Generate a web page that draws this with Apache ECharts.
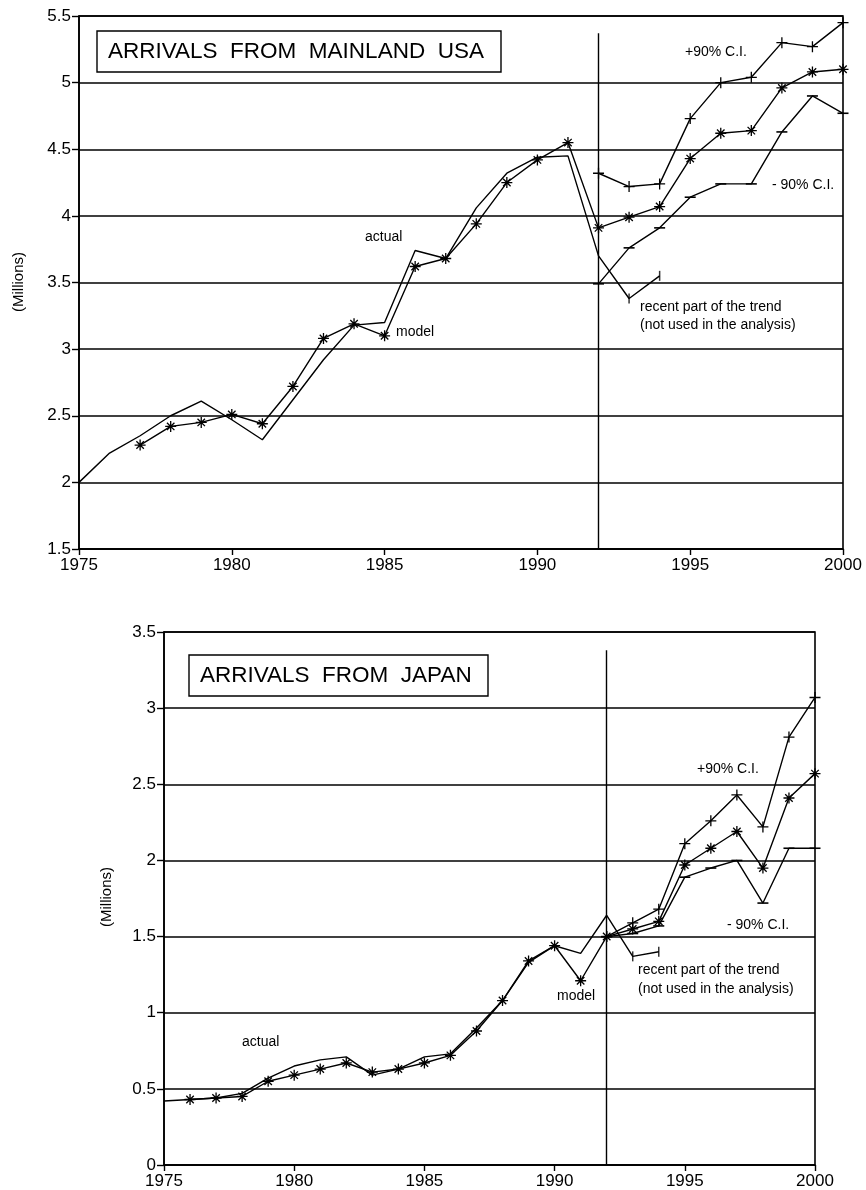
<!DOCTYPE html>
<html>
<head>
<meta charset="utf-8">
<title>Visitor arrivals: actual, model and 90% confidence interval</title>
<script src="https://cdn.jsdelivr.net/npm/echarts@6/dist/echarts.min.js"></script>
<style>
  html, body { margin: 0; padding: 0; background: #fff; }
  #chart { width: 866px; height: 1190px; }
</style>
</head>
<body>
<div id="chart"></div>
<script>
// ---- data (millions of arrivals) ----
const years = [1975, 1976, 1977, 1978, 1979, 1980, 1981, 1982, 1983, 1984, 1985, 1986, 1987,
               1988, 1989, 1990, 1991, 1992, 1993, 1994, 1995, 1996, 1997, 1998, 1999, 2000];
const forecastYears = [1992, 1993, 1994, 1995, 1996, 1997, 1998, 1999, 2000];
const recentYears = [1993, 1994];
const splitYear = 1992;

// Mainland USA
const usaActual = [2.00, 2.22, 2.35, 2.50, 2.61, 2.47, 2.32, 2.62, 2.92, 3.18, 3.20, 3.74, 3.68,
                   4.06, 4.32, 4.44, 4.45, 3.70, 3.38, 3.55];
const usaModel  = [null, null, 2.28, 2.42, 2.45, 2.51, 2.44, 2.72, 3.08, 3.19, 3.10, 3.62, 3.68,
                   3.94, 4.25, 4.42, 4.55, 3.91, 3.99, 4.07, 4.43, 4.62, 4.64, 4.96, 5.08, 5.10];
const usaUpper  = [4.32, 4.22, 4.24, 4.73, 5.00, 5.04, 5.30, 5.27, 5.45];
const usaLower  = [3.49, 3.76, 3.91, 4.14, 4.24, 4.24, 4.63, 4.90, 4.77];

// Japan
const japanActual = [0.42, 0.43, 0.44, 0.47, 0.57, 0.65, 0.69, 0.71, 0.59, 0.63, 0.71, 0.73, 0.90,
                     1.08, 1.33, 1.44, 1.39, 1.64, 1.37, 1.40];
const japanModel  = [null, 0.43, 0.44, 0.45, 0.55, 0.59, 0.63, 0.67, 0.61, 0.63, 0.67, 0.72, 0.88,
                     1.08, 1.34, 1.44, 1.21, 1.50, 1.55, 1.60, 1.97, 2.08, 2.19, 1.95, 2.41, 2.57];
const japanUpper  = [1.50, 1.59, 1.68, 2.11, 2.26, 2.43, 2.22, 2.81, 3.07];
const japanLower  = [1.50, 1.52, 1.57, 1.89, 1.95, 2.00, 1.72, 2.08, 2.08];

// axis ranges and tick labels
const yearTicks = [1975, 1980, 1985, 1990, 1995, 2000];
const usaRange = [1.5, 5.5];
const japanRange = [0, 3.5];
const usaSplitTop = 5.37;
const japanSplitTop = 3.38;

// ---- drawing ----
const FONT = '"Liberation Sans", Arial, Helvetica, sans-serif';
const STAR = 'path://M5,0L5,10M0,5L10,5M1.6,1.6L8.4,8.4M8.4,1.6L1.6,8.4';
const PLUS = 'path://M5,0L5,10M0,5L10,5';

function pairs(xs, ys) {
  const out = [];
  for (let i = 0; i < ys.length; i++) {
    if (ys[i] !== null && ys[i] !== undefined) out.push([xs[i], ys[i]]);
  }
  return out;
}
function pick(xs, ys, wanted) {
  return wanted.map(y => [y, ys[xs.indexOf(y)]]);
}

const lineBase = {
  type: 'line',
  animation: false,
  silent: true,
  lineStyle: { color: '#000', width: 1.4 },
  itemStyle: { color: '#000', borderColor: '#000', borderWidth: 1.3 }
};

function panelSeries(idx, actual, model, upper, lower, splitRange) {
  return [
    Object.assign({}, lineBase, {
      name: 'actual', xAxisIndex: idx, yAxisIndex: idx,
      symbol: 'none', data: pairs(years, actual),
      markLine: {
        silent: true, symbol: 'none', label: { show: false },
        lineStyle: { color: '#000', width: 1.4, type: 'solid' },
        data: [[{ coord: [splitYear, splitRange[0]] }, { coord: [splitYear, splitRange[1]] }]]
      }
    }),
    Object.assign({}, lineBase, {
      name: 'recent', type: 'scatter', xAxisIndex: idx, yAxisIndex: idx,
      symbol: 'rect', symbolSize: [1.5, 10], itemStyle: { color: '#000' },
      data: pick(years, actual, recentYears)
    }),
    Object.assign({}, lineBase, {
      name: 'model', xAxisIndex: idx, yAxisIndex: idx,
      symbol: STAR, symbolSize: 11, showAllSymbol: true, data: pairs(years, model)
    }),
    Object.assign({}, lineBase, {
      name: '+90% C.I.', xAxisIndex: idx, yAxisIndex: idx,
      symbol: PLUS, symbolSize: 11, showAllSymbol: true, data: pairs(forecastYears, upper)
    }),
    Object.assign({}, lineBase, {
      name: '-90% C.I.', xAxisIndex: idx, yAxisIndex: idx,
      symbol: 'rect', symbolSize: [11, 1.6], showAllSymbol: true,
      itemStyle: { color: '#000' }, data: pairs(forecastYears, lower)
    })
  ];
}

function xAxis(idx) {
  return {
    type: 'value', gridIndex: idx, min: 1975, max: 2000, interval: 5,
    axisLine: { show: true, onZero: false, lineStyle: { color: '#000', width: 1.6 } },
    axisTick: { show: true, length: 6, lineStyle: { color: '#000', width: 1.4 } },
    axisLabel: { color: '#000', fontSize: 17, fontFamily: FONT, margin: 8,
                 formatter: v => (yearTicks.indexOf(v) >= 0 ? String(v) : '') },
    splitLine: { show: false }
  };
}
function yAxis(idx, range) {
  return {
    type: 'value', gridIndex: idx, min: range[0], max: range[1], interval: 0.5,
    axisLine: { show: true, onZero: false, lineStyle: { color: '#000', width: 1.6 } },
    axisTick: { show: true, length: 7, lineStyle: { color: '#000', width: 1.4 } },
    axisLabel: { color: '#000', fontSize: 17, fontFamily: FONT, margin: 8,
                 formatter: v => String(Math.round(v * 10) / 10) },
    splitLine: { show: true, lineStyle: { color: '#000', width: 1.6 } }
  };
}

function text(x, y, s, size, extra) {
  return Object.assign({
    type: 'text', x: x, y: y, silent: true, z: 10,
    style: { text: s, fill: '#000', font: size + 'px ' + FONT, verticalAlign: 'middle' }
  }, extra || {});
}
function vtext(x, y, s, size) {
  return {
    type: 'text', x: x, y: y, rotation: Math.PI / 2, silent: true, z: 10,
    style: { text: s, fill: '#000', font: size + 'px ' + FONT, align: 'center', verticalAlign: 'middle' }
  };
}
function titleBox(x, y, w, h, s) {
  return {
    type: 'group', silent: true, z: 10,
    children: [
      { type: 'rect', shape: { x: x, y: y, width: w, height: h },
        style: { fill: '#fff', stroke: '#000', lineWidth: 1.4 } },
      { type: 'text', x: x + 11, y: y + h / 2,
        style: { text: s, fill: '#000', font: '22.5px ' + FONT, verticalAlign: 'middle' } }
    ]
  };
}

const option = {
  backgroundColor: '#fff',
  animation: false,
  grid: [
    { left: 79, right: 23, top: 16, height: 533, show: true, borderColor: '#000', borderWidth: 1.6 },
    { left: 164, right: 51, top: 632, height: 534, show: true, borderColor: '#000', borderWidth: 1.6 }
  ],
  xAxis: [xAxis(0), xAxis(1)],
  yAxis: [yAxis(0, usaRange), yAxis(1, japanRange)],
  series: [].concat(
    panelSeries(0, usaActual, usaModel, usaUpper, usaLower, [usaRange[0], usaSplitTop]),
    panelSeries(1, japanActual, japanModel, japanUpper, japanLower, [japanRange[0], japanSplitTop])
  ),
  graphic: [
    titleBox(97, 31, 404, 41, 'ARRIVALS  FROM  MAINLAND  USA'),
    vtext(19, 282, '(Millions)', 15),
    text(365, 237, 'actual', 14),
    text(396, 332, 'model', 14),
    text(685, 52, '+90% C.I.', 14),
    text(772, 185, '- 90% C.I.', 14),
    text(640, 307, 'recent part of the trend', 14),
    text(640, 325, '(not used in the analysis)', 14),

    titleBox(189, 655, 299, 41, 'ARRIVALS  FROM  JAPAN'),
    vtext(107, 897, '(Millions)', 15),
    text(697, 769, '+90% C.I.', 14),
    text(727, 925, '- 90% C.I.', 14),
    text(638, 970, 'recent part of the trend', 14),
    text(638, 989, '(not used in the analysis)', 14),
    text(557, 996, 'model', 14),
    text(242, 1042, 'actual', 14)
  ]
};

const chart = echarts.init(document.getElementById('chart'), null, { renderer: 'canvas' });
chart.setOption(option);
</script>
</body>
</html>
